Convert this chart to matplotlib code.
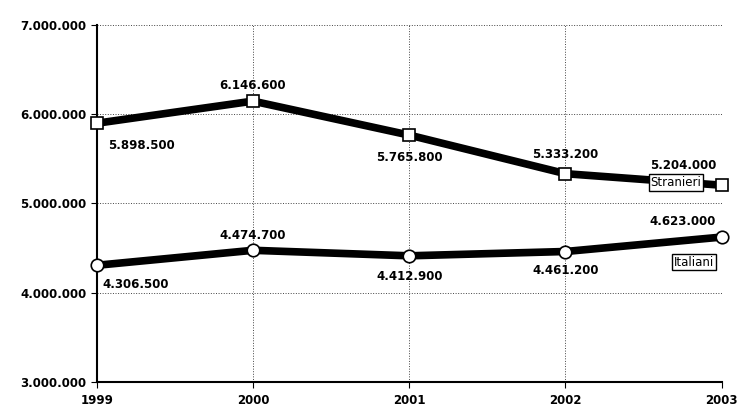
import matplotlib.pyplot as plt
from matplotlib.ticker import FuncFormatter

years = [1999, 2000, 2001, 2002, 2003]
stranieri = [5898500, 6146600, 5765800, 5333200, 5204000]
italiani = [4306500, 4474700, 4412900, 4461200, 4623000]
yticks = [3000000, 4000000, 5000000, 6000000, 7000000]


def fmt(v):
    return f'{int(v):,}'.replace(',', '.')


fig = plt.figure(figsize=(7.38, 4.16), dpi=100)
ax = fig.add_axes([0.131, 0.082, 0.847, 0.858])

ax.plot(years, stranieri, color='black', lw=5.5, marker='s', ms=9,
        mfc='white', mec='black', mew=1.2, clip_on=False, zorder=3)
ax.plot(years, italiani, color='black', lw=5.5, marker='o', ms=9,
        mfc='white', mec='black', mew=1.2, clip_on=False, zorder=3)

# value labels (offsets in points)
s_off = [(8, -16, 'left'), (0, 11, 'center'), (0, -16, 'center'),
         (0, 14, 'center'), (-4, 14, 'right')]
i_off = [(4, -14, 'left'), (0, 11, 'center'), (0, -15, 'center'),
         (0, -14, 'center'), (-4, 11, 'right')]
for x, y, (dx, dy, ha) in zip(years, stranieri, s_off):
    ax.annotate(fmt(y), (x, y), xytext=(dx, dy), textcoords='offset points',
                ha=ha, va='center', fontsize=8.5, fontweight='bold')
for x, y, (dx, dy, ha) in zip(years, italiani, i_off):
    ax.annotate(fmt(y), (x, y), xytext=(dx, dy), textcoords='offset points',
                ha=ha, va='center', fontsize=8.5, fontweight='bold')

box = dict(boxstyle='square,pad=0.15', fc='white', ec='black', lw=1)
ax.text(2002.87, stranieri[-1] + 30000, 'Stranieri', ha='right', va='center',
        fontsize=8.5, bbox=box, zorder=4)
ax.text(2002.95, italiani[-1] - 280000, 'Italiani', ha='right', va='center',
        fontsize=8.5, bbox=box, zorder=4)

ax.set_xlim(1999, 2003)
ax.set_ylim(3000000, 7000000)
ax.set_xticks(years)
ax.set_yticks(yticks)
ax.yaxis.set_major_formatter(FuncFormatter(lambda v, p: fmt(v)))
ax.grid(True, color='#444444', ls=':', lw=0.7)
ax.tick_params(labelsize=8.5, length=4, color='black')
ax.tick_params(axis='x', pad=5)
for lbl in ax.get_xticklabels() + ax.get_yticklabels():
    lbl.set_fontweight('bold')
ax.spines['top'].set_visible(False)
ax.spines['right'].set_visible(False)
ax.spines['left'].set_linewidth(1.5)
ax.spines['bottom'].set_linewidth(1.5)

fig.savefig('out.png', dpi=100)
